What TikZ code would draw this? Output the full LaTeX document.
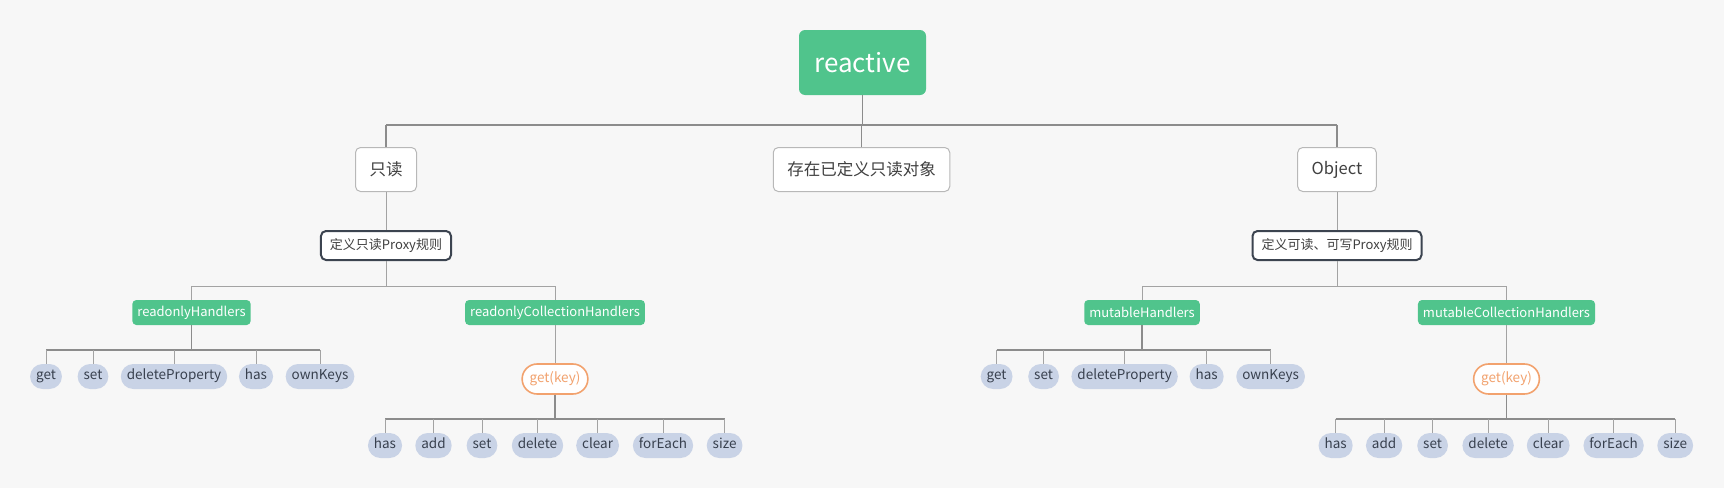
\documentclass[tikz,border=0pt]{standalone}
\usepackage{fontspec}
\setmainfont{Noto Sans CJK SC}
\usetikzlibrary{positioning,calc}

\definecolor{bgcol}{HTML}{F7F7F7}
\definecolor{mintgreen}{HTML}{50C48C}
\definecolor{leafblue}{HTML}{C9D3E6}
\definecolor{leaftext}{HTML}{38404E}
\definecolor{keyorange}{HTML}{F2A26E}
\definecolor{ruleborder}{HTML}{3C4450}
\definecolor{linegray}{HTML}{8C8C8C}

\begin{document}
\begin{tikzpicture}[
    x=1pt, y=-1pt,
    root-box/.style={draw=none, fill=mintgreen, text=white, rounded corners=6pt,
      minimum width=127pt, minimum height=65pt, font=\fontsize{26}{30}\selectfont},
    top-box/.style={draw=black!28, fill=white, text=black!75, rounded corners=5pt, line width=1pt,
      inner xsep=14pt, minimum height=44pt, font=\fontsize{16.5}{20}\selectfont},
    rule-box/.style={draw=ruleborder, fill=white, text=black!75, rounded corners=5pt, line width=2pt,
      inner xsep=9pt, minimum height=29pt, font=\fontsize{13}{16}\selectfont},
    handler-box/.style={fill=mintgreen, text=white, rounded corners=4pt,
      inner xsep=5pt, minimum height=25pt, font=\fontsize{13}{16}\selectfont},
    key-box/.style={draw=keyorange, fill=white, text=keyorange, rounded corners=15pt, line width=1.6pt,
      inner xsep=7.5pt, minimum height=30pt, font=\fontsize{13.5}{16}\selectfont},
    leaf/.style={fill=leafblue, text=leaftext, rounded corners=12.5pt,
      inner xsep=6pt, minimum height=25pt, text height=0.75em, text depth=0.22em,
      font=\fontsize{13.5}{16}\selectfont},
    bus/.style={draw=linegray, line width=1.8pt},
    stem/.style={draw=linegray, line width=1.6pt},
    drop/.style={draw=linegray!80, line width=1pt}
  ]

% Background and frame
\fill[bgcol] (0,0) rectangle (1724,488);
\useasboundingbox (0,0) rectangle (1724,488);

% Root and first level
\node[root-box] (reactive) at (862.5,62.5) {reactive};
\node[top-box] (readonly) at (386,169.5) {只读};
\node[top-box] (exists) at (861.5,169.5) {存在已定义只读对象};
\node[top-box] (object) at (1337,169.5) {Object};

% Proxy rules
\node[rule-box] (ro-rule) at (386,245.5) {定义只读Proxy规则};
\node[rule-box] (mu-rule) at (1337,245.5) {定义可读、可写Proxy规则};

% Handlers
\node[handler-box] (ro-h) at (191.5,312.5) {readonlyHandlers};
\node[handler-box] (ro-ch) at (555,312.5) {readonlyCollectionHandlers};
\node[handler-box] (mu-h) at (1142,312.5) {mutableHandlers};
\node[handler-box] (mu-ch) at (1506.5,312.5) {mutableCollectionHandlers};

% get(key)
\node[key-box] (ro-key) at (555,379) {get(key)};
\node[key-box] (mu-key) at (1506.5,379) {get(key)};

% Leaves of the handlers
\foreach \lbl/\x [count=\i] in {get/46, set/93, deleteProperty/174, has/256, ownKeys/320} {
    \node[leaf] (ro-h-\i) at (\x,376.5) {\lbl};
    \node[leaf] (mu-h-\i) at (\x+950.6,376.5) {\lbl};
}

% Leaves of get(key)
\foreach \lbl/\x [count=\i] in {has/385, add/433.5, set/482, delete/537.5, clear/597.6, forEach/663, size/724.6} {
    \node[leaf] (ro-k-\i) at (\x,445.5) {\lbl};
    \node[leaf] (mu-k-\i) at (\x+950.6,445.5) {\lbl};
}

% Bus lines
\coordinate (bus-top) at (862.5,125);
\coordinate (bus-rule) at (0,286);
\coordinate (bus-leaf) at (0,350);
\coordinate (bus-key) at (0,419);

\draw[stem] (reactive.south) -- (bus-top);
\draw[bus] (readonly.north |- bus-top) -- (object.north |- bus-top);
\foreach \n in {readonly,exists,object}
    \draw[stem] (\n.north) -- (\n.north |- bus-top);

% Single children
\draw[drop] (readonly.south) -- (ro-rule.north);
\draw[drop] (object.south) -- (mu-rule.north);
\draw[drop] (ro-ch.south) -- (ro-key.north);
\draw[drop] (mu-ch.south) -- (mu-key.north);

% Rules to handlers
\foreach \s in {ro,mu} {
    \draw[drop] (\s-rule.south) -- (\s-rule.south |- bus-rule);
    \draw[drop] (\s-h.north |- bus-rule) -- (\s-ch.north |- bus-rule);
    \draw[drop] (\s-h.north) -- (\s-h.north |- bus-rule);
    \draw[drop] (\s-ch.north) -- (\s-ch.north |- bus-rule);
}

% Handlers to leaves
\foreach \s in {ro,mu} {
    \draw[stem] (\s-h.south) -- (\s-h.south |- bus-leaf);
    \draw[bus] (\s-h-1.north |- bus-leaf) -- (\s-h-5.north |- bus-leaf);
    \foreach \i in {1,...,5}
        \draw[drop] (\s-h-\i.north) -- (\s-h-\i.north |- bus-leaf);
    \draw[stem] (\s-key.south) -- (\s-key.south |- bus-key);
    \draw[bus] (\s-k-1.north |- bus-key) -- (\s-k-7.north |- bus-key);
    \foreach \i in {1,...,7}
        \draw[drop] (\s-k-\i.north) -- (\s-k-\i.north |- bus-key);
}

\end{tikzpicture}
\end{document}
